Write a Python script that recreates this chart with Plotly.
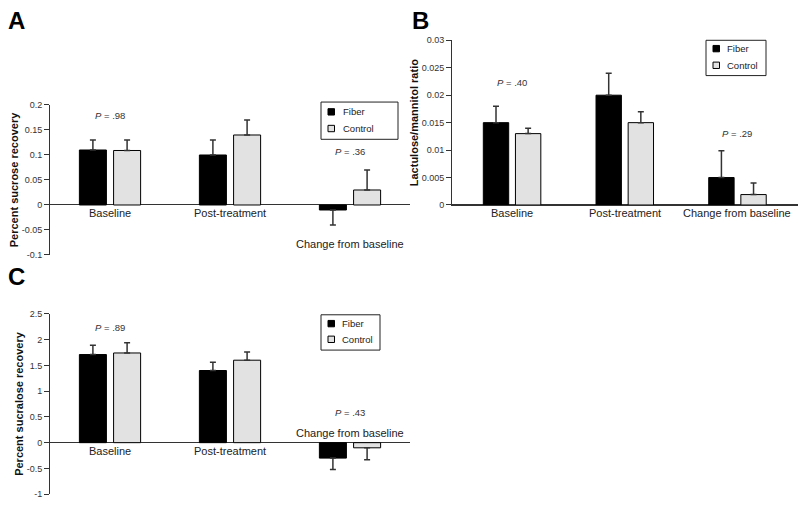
import plotly.graph_objects as go

W, H = 800, 509
FONT = "Liberation Sans, Arial, Helvetica, sans-serif"

categories = ["Baseline", "Post-treatment", "Change from baseline"]
groups = ["Fiber", "Control"]

# Panel A: percent sucrose recovery
a_fiber = [0.11, 0.10, -0.01]
a_fiber_err = [0.02, 0.03, 0.03]
a_control = [0.109, 0.14, 0.03]
a_control_err = [0.021, 0.03, 0.04]
a_ticks = [-0.1, -0.05, 0, 0.05, 0.1, 0.15, 0.2]
a_ticktext = ["-0.1", "-0.05", "0", "0.05", "0.1", "0.15", "0.2"]
a_p = ["P = .98", "P = .36"]

# Panel B: lactulose/mannitol ratio
b_fiber = [0.015, 0.020, 0.005]
b_fiber_err = [0.003, 0.004, 0.0049]
b_control = [0.013, 0.015, 0.0019]
b_control_err = [0.001, 0.002, 0.0021]
b_ticks = [0, 0.005, 0.01, 0.015, 0.02, 0.025, 0.03]
b_ticktext = ["0", "0.005", "0.01", "0.015", "0.02", "0.025", "0.03"]
b_p = ["P = .40", "P = .29"]

# Panel C: percent sucralose recovery
c_fiber = [1.71, 1.40, -0.30]
c_fiber_err = [0.18, 0.16, 0.22]
c_control = [1.74, 1.60, -0.10]
c_control_err = [0.20, 0.16, 0.23]
c_ticks = [-1, -0.5, 0, 0.5, 1, 1.5, 2, 2.5]
c_ticktext = ["-1", "-0.5", "0", "0.5", "1", "1.5", "2", "2.5"]
c_p = ["P = .89", "P = .43"]

colors = {"Fiber": "#000000", "Control": "#e2e2e2"}


def px(x):
    return x / W


def py(y):
    return 1 - y / H


fig = go.Figure()


def add_panel(xa, ya, fiber, fiber_err, control, control_err):
    for name, vals, errs in [("Fiber", fiber, fiber_err), ("Control", control, control_err)]:
        up = [e if v >= 0 else 0 for v, e in zip(vals, errs)]
        dn = [0 if v >= 0 else e for v, e in zip(vals, errs)]
        fig.add_trace(go.Bar(
            x=categories, y=vals, name=name, xaxis=xa, yaxis=ya,
            marker=dict(color=colors[name], line=dict(color="#000000", width=1)),
            error_y=dict(type="data", symmetric=False, array=up, arrayminus=dn,
                         color="#333333", thickness=1.5, width=3),
            showlegend=False,
        ))


add_panel("x", "y", a_fiber, a_fiber_err, a_control, a_control_err)
add_panel("x2", "y2", b_fiber, b_fiber_err, b_control, b_control_err)
add_panel("x3", "y3", c_fiber, c_fiber_err, c_control, c_control_err)

axcol = "#333333"
yax_common = dict(showline=True, linecolor=axcol, linewidth=1, ticks="outside",
                  ticklen=5, tickcolor=axcol, tickwidth=1, showgrid=False,
                  tickfont=dict(size=9, color="#333333", family=FONT),
                  zeroline=True, zerolinecolor=axcol, zerolinewidth=1,
                  title_font=dict(size=11, color="#111111", family=FONT))
xax_common = dict(showticklabels=False, showgrid=False, zeroline=False, ticks="")

fig.update_layout(
    width=W, height=H, margin=dict(l=0, r=0, t=0, b=0),
    paper_bgcolor="white", plot_bgcolor="white",
    barmode="group", bargap=0.43, bargroupgap=0.21,
    font=dict(family=FONT),
    xaxis=dict(domain=[px(50), px(410)], range=[-0.5, 2.5], anchor="y", showline=False, **xax_common),
    yaxis=dict(domain=[py(255), py(102)], range=[-0.1, 0.2], anchor="x",
               tickvals=a_ticks, ticktext=a_ticktext,
               title=dict(text="<b>Percent sucrose recovery</b>", standoff=0), **yax_common),
    xaxis2=dict(domain=[px(452), px(798)], range=[-0.533, 2.537], anchor="y2",
                showline=True, linecolor=axcol, linewidth=1, **xax_common),
    yaxis2=dict(domain=[py(204), py(36)], range=[0, 0.03], anchor="x2",
                tickvals=b_ticks, ticktext=b_ticktext,
                title=dict(text="<b>Lactulose/mannitol ratio</b>", standoff=0), **yax_common),
    xaxis3=dict(domain=[px(50), px(410)], range=[-0.5, 2.5], anchor="y3", showline=False, **xax_common),
    yaxis3=dict(domain=[py(499), py(315)], range=[-1, 2.5], anchor="x3",
                tickvals=c_ticks, ticktext=c_ticktext,
                title=dict(text="<b>Percent sucralose recovery</b>", standoff=0), **yax_common),
)

ann = []
# panel letters
for letter, (lx, ly) in {"A": (16, 16), "B": (420, 16), "C": (16, 277)}.items():
    ann.append(dict(text="<b>%s</b>" % letter, x=px(lx), y=py(ly), xref="paper", yref="paper",
                    showarrow=False, font=dict(size=24, color="#000000", family=FONT),
                    xanchor="center", yanchor="middle"))

lab_font = dict(size=11, color="#222222", family=FONT)
# category labels
cat_pos = {
    "x": [(categories[0], 0, "top"), (categories[1], 0, "top"), (categories[2], -0.078, "middle")],
    "x2": [(categories[0], 0, "top"), (categories[1], 0, "top"), (categories[2], 0, "top")],
    "x3": [(categories[0], 0, "top"), (categories[1], 0, "top"), (categories[2], 0.19, "middle")],
}
yref_of = {"x": "y", "x2": "y2", "x3": "y3"}
for xa, items in cat_pos.items():
    for c, yv, anc in items:
        ann.append(dict(text=c, x=c, y=yv, xref=xa, yref=yref_of[xa], showarrow=False,
                        font=lab_font, xanchor="center", yanchor=anc))

p_font = dict(size=9.5, color="#333333", family=FONT)


def ptxt(s):
    return s.replace("P", "<i>P</i>", 1)


for xa, plist, ys in [("x", a_p, [0.178, 0.106]), ("x2", b_p, [0.0223, 0.0130]), ("x3", c_p, [2.235, 0.593])]:
    for (c, s, yv) in zip([categories[0], categories[2]], plist, ys):
        ann.append(dict(text=ptxt(s), x=c, y=yv, xref=xa, yref=yref_of[xa], showarrow=False,
                        font=p_font, xanchor="center", yanchor="middle"))

shapes = []
leg_font = dict(size=9.5, color="#222222", family=FONT)
# legends: box (x0, y0, x1, y1), swatch x, row centers, text x
legends = [
    ((321, 99, 398, 137), 328, [109, 126], 341),
    ((706, 36, 766, 72), 713, [44.5, 61.5], 725),
    ((321, 316, 380, 352), 328, [325, 341], 340),
]
for (x0, y0, x1, y1), sx, rows, tx in legends:
    shapes.append(dict(type="rect", xref="paper", yref="paper", x0=px(x0), x1=px(x1),
                       y0=py(y1), y1=py(y0), line=dict(color="#222222", width=1),
                       fillcolor="white", layer="above"))
    for g, ry in zip(groups, rows):
        shapes.append(dict(type="rect", xref="paper", yref="paper", x0=px(sx), x1=px(sx + 6.5),
                           y0=py(ry + 3.25), y1=py(ry - 3.25), line=dict(color="#000000", width=1),
                           fillcolor=colors[g], layer="above"))
        ann.append(dict(text=g, x=px(tx), y=py(ry), xref="paper", yref="paper", showarrow=False,
                        font=leg_font, xanchor="left", yanchor="middle"))

fig.update_layout(annotations=ann, shapes=shapes)
fig.write_html("out.html", config={"displayModeBar": False},
               post_script="document.body.style.margin='0';document.body.style.overflow='hidden';")
